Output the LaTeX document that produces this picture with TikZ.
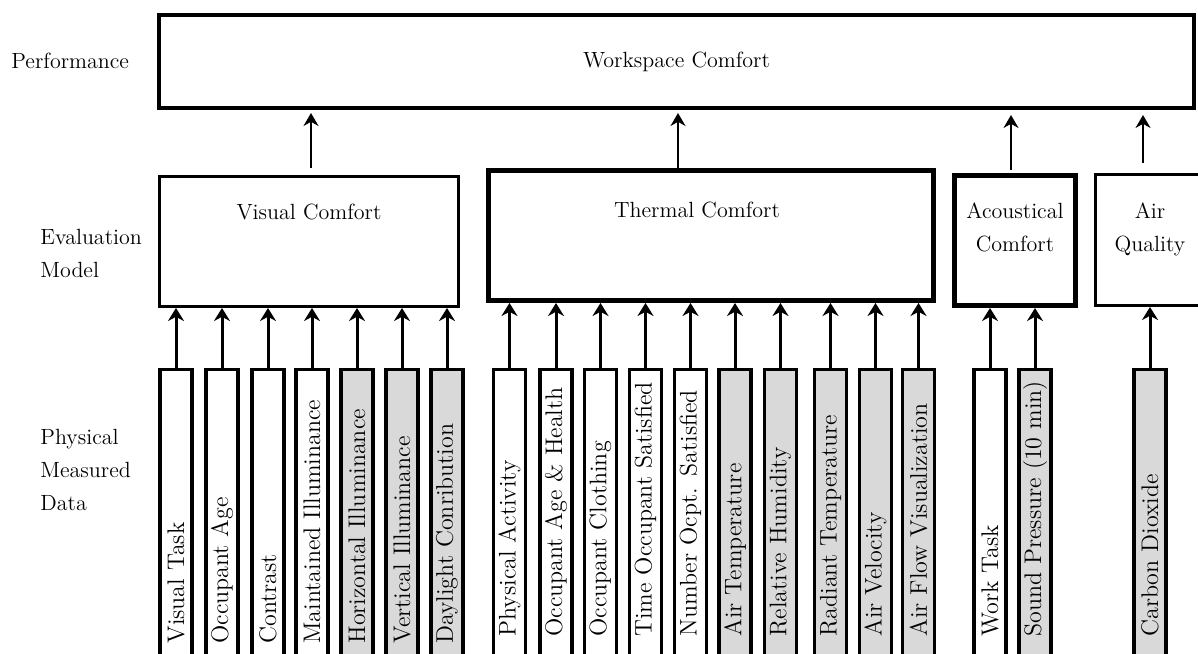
\documentclass[tikz,border=0pt]{standalone}
\usetikzlibrary{arrows.meta}
\definecolor{measgray}{RGB}{217,217,217}
% measured data box: name, x, text, fill, evaluation box
\newcommand{\measbox}[5]{\node[measbox,fill=#4] (#1) at (#2,368) {\mbox{#3}};
  \draw[dataarrow] (#1.east) -- (#1.east |- #5.south);}

\begin{document}
\begin{tikzpicture}[x=0.5pt,y=-0.5pt,
  every node/.style={font=\fontsize{11}{16.5}\selectfont},
  evalbox/.style={draw,line width=1.7pt,inner sep=0pt},
  evallabel/.style={anchor=north,inner sep=0pt,align=center},
  measbox/.style={draw,line width=1.6pt,rotate=90,anchor=east,minimum width=145pt,
    minimum height=16pt,text width=129pt,inner xsep=8pt,inner ysep=1pt,align=left,
    font=\fontsize{12}{14}\selectfont},
  toparrow/.style={line width=0.8pt,-{Stealth[length=6.5pt,width=7.5pt]}},
  dataarrow/.style={line width=1.5pt,-{Stealth[length=6.5pt,width=8pt]}}]
  \useasboundingbox (0,0) rectangle (1198,653);
  \clip (0,0) rectangle (1198,653);
  %level names
  \node[anchor=north west,inner sep=0pt] (perf) at (11,53) {Performance};
  \node[anchor=north west,inner sep=0pt,align=left] (evmod) at (40,229) {Evaluation\\Model};
  \node[anchor=north west,inner sep=0pt,align=left] (phys) at (40,429) {Physical\\Measured\\Data};
  %performance
  \node[evalbox,line width=2pt,minimum width=517.5pt,minimum height=46.5pt] (wc) at (676.5,61.5) {Workspace Comfort};
  %evaluation models
  \node[evalbox,minimum width=149.3pt,minimum height=64.8pt,
    label={[evallabel,yshift=-14.5pt]north:Visual Comfort}] (vc) at (309,241.5) {};
  \node[evalbox,line width=2.5pt,minimum width=222.5pt,minimum height=65pt,
    label={[evallabel,yshift=-17pt,xshift=-7pt]north:Thermal Comfort}] (tc) at (711,235.5) {};
  \node[evalbox,line width=2.5pt,minimum width=60.5pt,minimum height=65pt,
    label={[evallabel,yshift=-14.5pt]north:Acoustical\\Comfort}] (ac) at (1015,240.5) {};
  \node[evalbox,minimum width=54.3pt,minimum height=65.3pt,
    label={[evallabel,yshift=-14.5pt]north:Air\\Quality}] (aq) at (1150,240) {};
  %arrows to performance
  \draw[toparrow,shorten <=3.5pt,shorten >=1.5pt] ([xshift=1pt]vc.north) -- ([xshift=1pt]vc.north |- wc.south);
  \draw[toparrow,shorten >=1.5pt] ([xshift=-16.5pt]tc.north) -- ([xshift=-16.5pt]tc.north |- wc.south);
  \draw[toparrow,shorten <=1.5pt,shorten >=2.5pt] ([xshift=-2pt]ac.north) -- ([xshift=-2pt]ac.north |- wc.south);
  \draw[toparrow,shorten <=5pt,shorten >=2.5pt] ([xshift=-3.5pt]aq.north) -- ([xshift=-3.5pt]aq.north |- wc.south);
  %visual data
  \measbox{vtask}{176}{Visual Task}{white}{vc}
  \measbox{oage}{222}{Occupant Age}{white}{vc}
  \measbox{contr}{268}{Contrast}{white}{vc}
  \measbox{maint}{312}{Maintained Illuminance}{white}{vc}
  \measbox{horiz}{357}{Horizontal Illuminance}{measgray}{vc}
  \measbox{vert}{402}{Vertical Illuminance}{measgray}{vc}
  \measbox{dayl}{447}{Daylight Conribution}{measgray}{vc}
  \begin{scope}[measbox/.append style={inner xsep=11.5pt,text width=122pt}]
  %thermal data
  \measbox{physact}{509.5}{Physical Activity}{white}{tc}
  \measbox{oagehlth}{556}{Occupant Age \& Health}{white}{tc}
  \measbox{ocloth}{600.5}{Occupant Clothing}{white}{tc}
  \measbox{timesat}{645.5}{Time Occupant Satisfied}{white}{tc}
  \measbox{numsat}{690.5}{Number Ocpt. Satisfied}{white}{tc}
  \measbox{airtemp}{735}{Air Temperature}{measgray}{tc}
  \measbox{relhum}{780.5}{Relative Humidity}{measgray}{tc}
  \measbox{radtemp}{830.5}{Radiant Temperature}{measgray}{tc}
  \measbox{airvel}{875.5}{Air Velocity}{measgray}{tc}
  \measbox{airflow}{918.5}{Air Flow Visualization}{measgray}{tc}
  %acoustical and air data
  \measbox{worktask}{990}{Work Task}{white}{ac}
  \measbox{soundp}{1035}{Sound Pressure (10 min)}{measgray}{ac}
  \measbox{cotwo}{1150}{Carbon Dioxide}{measgray}{aq}
  \end{scope}
\end{tikzpicture}
\end{document}
